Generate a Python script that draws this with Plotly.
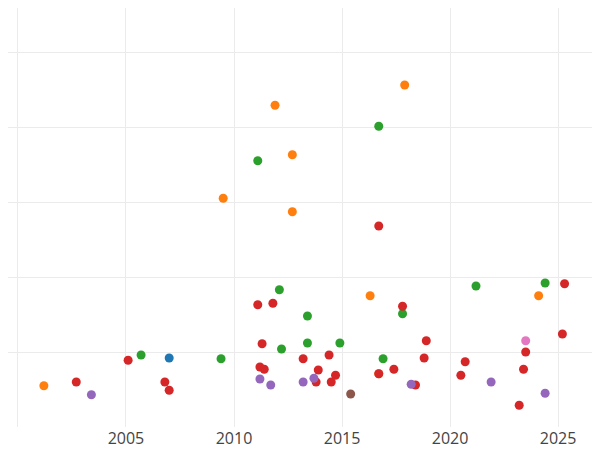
import plotly.graph_objects as go

orange_x = [2001.2, 2011.9, 2017.9, 2012.7, 2009.5, 2012.7, 2016.3, 2024.1, 2016.7]
orange_y = [0.55, 4.29, 4.56, 3.63, 3.05, 2.87, 1.75, 1.75, 0.71]
green_x = [2005.7, 2009.4, 2011.1, 2016.7, 2012.1, 2013.4, 2012.2, 2013.4, 2014.9, 2016.9, 2017.8, 2021.2, 2024.4]
green_y = [0.96, 0.91, 3.55, 4.01, 1.83, 1.48, 1.04, 1.12, 1.12, 0.91, 1.51, 1.88, 1.92]
red_x = [2002.7, 2005.1, 2006.8, 2007.0, 2011.1, 2011.8, 2011.3, 2011.2, 2011.4, 2013.2, 2013.9, 2013.8,
         2014.5, 2014.7, 2014.4, 2016.7, 2017.8, 2016.7, 2017.4, 2018.4, 2018.8, 2018.9, 2020.5, 2020.7,
         2023.2, 2023.4, 2023.5, 2025.2, 2025.3]
red_y = [0.6, 0.89, 0.6, 0.49, 1.63, 1.65, 1.11, 0.8, 0.77, 0.91, 0.76, 0.6,
         0.6, 0.69, 0.96, 2.68, 1.61, 0.71, 0.77, 0.56, 0.92, 1.15, 0.69, 0.87,
         0.29, 0.77, 1.0, 1.24, 1.91]
blue_x = [2007.0]
blue_y = [0.92]
purple_x = [2003.4, 2011.2, 2011.7, 2013.2, 2013.7, 2018.2, 2021.9, 2024.4]
purple_y = [0.43, 0.64, 0.56, 0.6, 0.65, 0.57, 0.6, 0.45]
brown_x = [2015.4]
brown_y = [0.44]
pink_x = [2023.5]
pink_y = [1.15]

series = [
    (blue_x, blue_y, "#1f77b4"),
    (orange_x, orange_y, "#ff7f0e"),
    (green_x, green_y, "#2ca02c"),
    (red_x, red_y, "#d62728"),
    (purple_x, purple_y, "#9467bd"),
    (brown_x, brown_y, "#8c564b"),
    (pink_x, pink_y, "#e377c2"),
]

fig = go.Figure()
for xs, ys, c in series:
    fig.add_trace(go.Scatter(x=xs, y=ys, mode="markers",
                             marker=dict(color=c, size=9), showlegend=False))

fig.update_layout(
    width=600, height=450, template="plotly_white",
    margin=dict(l=0, r=0, t=0, b=31),
    xaxis=dict(range=[1999.54, 2027.31], tickvals=[2000, 2005, 2010, 2015, 2020, 2025],
               ticktext=["", "2005", "2010", "2015", "2020", "2025"],
               showgrid=True, gridcolor="#ebebeb", zeroline=False, automargin=False,
               tickfont=dict(size=16, color="#444")),
    yaxis=dict(range=[0, 5.587], dtick=1, showticklabels=False, automargin=False,
               gridcolor="#ebebeb", zeroline=False),
)
fig.write_html("out.html")
